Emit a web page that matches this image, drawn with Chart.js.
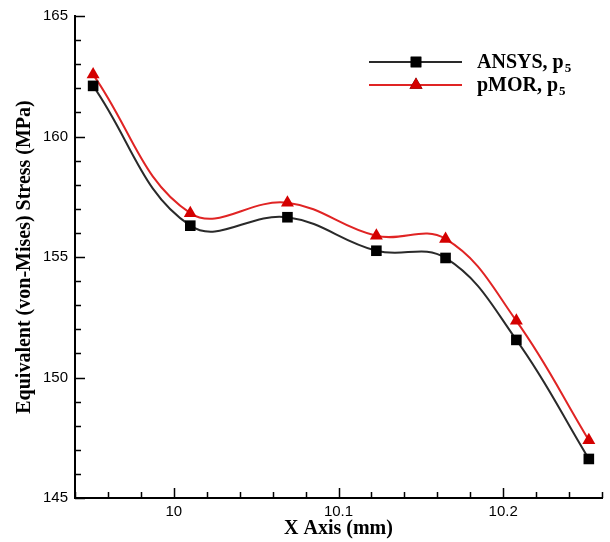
<!DOCTYPE html>
<html>
  <head>
    <meta charset="utf-8">
    <title>Equivalent Stress</title>
    <script src="https://cdn.jsdelivr.net/npm/chart.js@4.4.1/dist/chart.umd.min.js"></script>
    <style>
      html, body { margin: 0; padding: 0; background: #fff; }
      #box { width: 610px; height: 542px; }
    </style>
  </head>
  <body>
    <div id="box"><canvas id="myChart"></canvas></div>

    <script>
      // values
      const xValues = [9.951, 10.010, 10.069, 10.123, 10.165, 10.208, 10.252];
      const ansys = [162.10, 156.30, 156.65, 155.26, 154.96, 151.56, 146.62];
      const pmor = [162.57, 156.82, 157.25, 155.88, 155.75, 152.35, 147.40];
      const xTicks = [10, 10.1, 10.2];
      const yTicks = [145, 150, 155, 160, 165];
      const seriesNames = ['ANSYS, p', 'pMOR, p'];
      const seriesSub = ['5', '5'];

      const lineColors = ['#2a2a2a', '#e02424'];
      const markColors = ['#000000', '#d40000'];

      function pts(ys) {
        return xValues.map((x, i) => ({ x: x, y: ys[i] }));
      }

      // tick marks drawn inside the plot, major + minor
      const insideTicks = {
        id: 'insideTicks',
        afterDraw(chart) {
          const ctx = chart.ctx;
          const xs = chart.scales.x, ys = chart.scales.y;
          const a = chart.chartArea;
          ctx.save();
          ctx.strokeStyle = '#000';
          ctx.lineWidth = 1.5;
          ctx.beginPath();
          for (let v = 9.94; v < 10.265; v += 0.02) {
            const vv = Math.round(v * 100) / 100;
            const major = xTicks.some(t => Math.abs(t - vv) < 1e-6);
            const px = Math.round(xs.getPixelForValue(vv)) + 0.5;
            ctx.moveTo(px, a.bottom);
            ctx.lineTo(px, a.bottom - (major ? 10 : 6));
          }
          for (let v = 145; v <= 165; v++) {
            const major = v % 5 === 0;
            const py = Math.round(ys.getPixelForValue(v)) + 0.5;
            ctx.moveTo(a.left, py);
            ctx.lineTo(a.left + (major ? 10 : 6), py);
          }
          ctx.stroke();
          ctx.restore();
        }
      };

      // legend with line + marker and subscript text
      const subLegend = {
        id: 'subLegend',
        afterDraw(chart) {
          const ctx = chart.ctx;
          const rows = [62, 85];
          ctx.save();
          chart.data.datasets.forEach((ds, i) => {
            const y = rows[i];
            ctx.strokeStyle = ds.borderColor;
            ctx.lineWidth = 2;
            ctx.beginPath();
            ctx.moveTo(369, y);
            ctx.lineTo(462, y);
            ctx.stroke();
            Chart.helpers.drawPoint(ctx, {
              pointStyle: ds.pointStyle, radius: ds.pointRadius, borderWidth: 0
            }, 416, y);
            ctx.fillStyle = ds.pointBackgroundColor;
            ctx.fill();
            ctx.fillStyle = '#000';
            ctx.textBaseline = 'middle';
            ctx.textAlign = 'left';
            ctx.font = 'bold 20px "Liberation Serif"';
            ctx.fillText(seriesNames[i], 477, y + 1);
            const w = ctx.measureText(seriesNames[i]).width;
            ctx.font = 'bold 13px "Liberation Serif"';
            ctx.fillText(seriesSub[i], 477 + w + 1, y + 7);
          });
          ctx.restore();
        }
      };

      const ctx = document.getElementById('myChart').getContext('2d');
      const myChart = new Chart(ctx, {
        type: 'line',
        data: {
          datasets: [{
            label: 'ANSYS, p5',
            data: pts(ansys),
            borderColor: lineColors[0],
            borderWidth: 2,
            pointStyle: 'rect',
            pointRadius: 7.5,
            pointBackgroundColor: markColors[0],
            pointBorderWidth: 0,
            tension: 0.4,
            fill: false
          }, {
            label: 'pMOR, p5',
            data: pts(pmor),
            borderColor: lineColors[1],
            borderWidth: 2,
            pointStyle: 'triangle',
            pointRadius: 7.5,
            pointBackgroundColor: markColors[1],
            pointBorderWidth: 0,
            tension: 0.4,
            fill: false
          }]
        },
        options: {
          responsive: true,
          maintainAspectRatio: false,
          animation: false,
          layout: { padding: { top: 13, right: 8, left: 0, bottom: 0 } },
          plugins: {
            legend: { display: false },
            tooltip: { enabled: false }
          },
          scales: {
            x: {
              type: 'linear',
              min: 9.94,
              max: 10.26,
              afterBuildTicks(s) { s.ticks = xTicks.map(v => ({ value: v })); },
              afterFit(s) { s.height = 44; },
              grid: { display: false, drawTicks: false },
              border: { display: true, width: 2, color: '#000' },
              ticks: {
                padding: 5,
                color: '#000',
                font: { family: '"Liberation Sans"', size: 15 },
                callback: v => String(v)
              },
              title: {
                display: true,
                text: 'X Axis (mm)',
                color: '#000',
                font: { family: '"Liberation Serif"', size: 20, weight: 'bold' },
                padding: { top: 0, bottom: 1 }
              }
            },
            y: {
              min: 145,
              max: 165,
              afterBuildTicks(s) { s.ticks = yTicks.map(v => ({ value: v })); },
              afterFit(s) { s.width = 75; },
              grid: { display: false, drawTicks: false },
              border: { display: true, width: 2, color: '#000' },
              ticks: {
                padding: 7,
                color: '#000',
                font: { family: '"Liberation Sans"', size: 15 }
              },
              title: {
                display: true,
                text: 'Equivalent (von-Mises) Stress (MPa)',
                color: '#000',
                font: { family: '"Liberation Serif"', size: 20, weight: 'bold' },
                padding: { top: 13, bottom: 0 }
              }
            }
          }
        },
        plugins: [insideTicks, subLegend]
      });
    </script>
  </body>
</html>
